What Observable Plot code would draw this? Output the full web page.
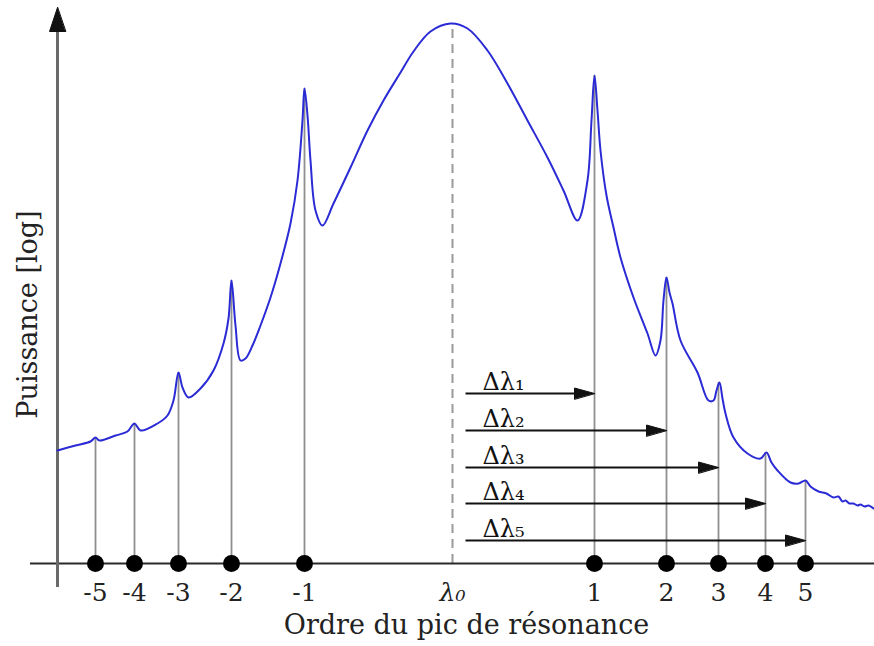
<!DOCTYPE html>
<html><head><meta charset="utf-8">
<script src="https://cdn.jsdelivr.net/npm/d3@7"></script>
<script src="https://cdn.jsdelivr.net/npm/@observablehq/plot@0.6"></script>
<style>body{margin:0;background:#fff}#chart svg{display:block}</style>
</head><body><div id="chart"></div>
<script>
// Spectrum (position along wavelength axis, log power above baseline)
const specX = [57,75,90,95,99,115,127,134,140,157,167,173,178,182,188,200,213,223,228,231,235,240,245,252,260,270,280,290,297,302,304,307,310,315,322,333,350,367,383,400,413,430,450,467,487,507,527,547,563,577,587,591,594,597,600,606,613,620,633,647,655,660,663,666,669,672,680,697,708,713,716,719,722,725,733,747,760,766,771,777,790,798,805,810,818,826,833,838,842,845,849,853,857,860,864,868,873];
const specY = [113,118,122,126,123,128,132,140,133,140,148,163,191,176,166,175,193,220,245,283,238,203,205,218,238,266,300,340,383,443,475,448,403,353,338,360,396,433,463,491,512,532,540,535,513,480,443,406,373,343,383,443,488,453,413,368,336,306,266,230,208,223,263,286,271,260,223,191,163,163,173,181,165,150,126,110,105,111,101,93,81,80,83,77,72,70,66,67,62,63,60,60,58,59,57,58,55];
// Resonance orders
const orderLabels = ["-5","-4","-3","-2","-1","1","2","3","4","5"];
const orderX = [95,134,178,231,304,594,666,718,765,805];
const orderPeak = [126,140,191,283,475,488,286,181,111,83];
const centerLabel = "λ₀";
const centerX = 452;
const centerPeak = 540;
// Δλ arrows
const deltaLabels = ["Δλ₁","Δλ₂","Δλ₃","Δλ₄","Δλ₅"];
const deltaTipX = [594,666,718,765,805];
const deltaRowY = [170,133,96,60,23];
const deltaStartX = 465;
const yTitle = "Puissance [log]";
const xTitle = "Ordre du pic de résonance";

const spectrum = specX.map((x, i) => ({x, y: specY[i]}));
const orders = orderLabels.map((label, i) => ({label, x: orderX[i], peak: orderPeak[i]}));
const deltas = deltaLabels.map((label, i) => ({label, x2: deltaTipX[i], y: deltaRowY[i]}));

const head = {draw(ctx, l, r) { ctx.moveTo(0, -l); ctx.lineTo(-r, 0); ctx.lineTo(r, 0); ctx.closePath(); }};
const serif = "DejaVu Serif";

const chart = Plot.plot({
  width: 874, height: 646,
  marginTop: 0, marginRight: 0, marginBottom: 0, marginLeft: 0,
  x: {domain: [0, 874], range: [0, 874], axis: null},
  y: {domain: [-83, 563], range: [646, 0], axis: null},
  style: {fontFamily: serif, background: "#fff"},
  marks: [
    // vertical guides from peaks
    Plot.ruleX(orders, {x: "x", y1: 0, y2: "peak", stroke: "#8f8f8f", strokeWidth: 1.8}),
    Plot.ruleX([centerX], {y1: 0, y2: centerPeak, stroke: "#999", strokeWidth: 2, strokeDasharray: "9,6"}),
    // axes
    Plot.ruleY([0], {x1: 30, x2: 874, stroke: "#2a2a2a", strokeWidth: 2.2}),
    Plot.ruleX([57], {y1: -24, y2: 536, stroke: "#6a6a6a", strokeWidth: 3}),
    Plot.vector([57], {x: d => d, y: 556, length: 24, rotate: 0, anchor: "end", shape: head, r: 8, fill: "#111", stroke: "#111", strokeWidth: 1}),
    // spectrum
    Plot.line(spectrum, {x: "x", y: "y", curve: "catmull-rom", stroke: "#2b2bd6", strokeWidth: 2}),
    // Δλ arrows
    Plot.link(deltas, {x1: deltaStartX, x2: d => d.x2 - 18, y1: "y", y2: "y", stroke: "#111", strokeWidth: 2}),
    Plot.vector(deltas, {x: "x2", y: "y", length: 20, rotate: 90, anchor: "end", shape: head, r: 5.5, fill: "#111", stroke: "#111", strokeWidth: 1}),
    Plot.text(deltas, {x: deltaStartX + 17, y: d => d.y + 4, text: "label", textAnchor: "start", lineAnchor: "bottom", fontSize: 24, fill: "#111"}),
    // order dots
    Plot.dot(orders, {x: "x", y: 0, r: 8.5, fill: "#000", stroke: "none"}),
    // tick labels
    Plot.text(orders, {x: "x", y: -29, text: "label", fontSize: 25, fill: "#222"}),
    Plot.text([centerLabel], {x: centerX, y: -29, text: d => d, fontSize: 25, fontStyle: "italic", fill: "#222"}),
    // titles
    Plot.text([xTitle], {x: 466, y: -62, text: d => d, fontSize: 27, fill: "#222"}),
    Plot.text([yTitle], {x: 28, y: 249, text: d => d, fontSize: 27, rotate: -90, fill: "#222"})
  ]
});
document.getElementById("chart").append(chart);
</script>
</body></html>
